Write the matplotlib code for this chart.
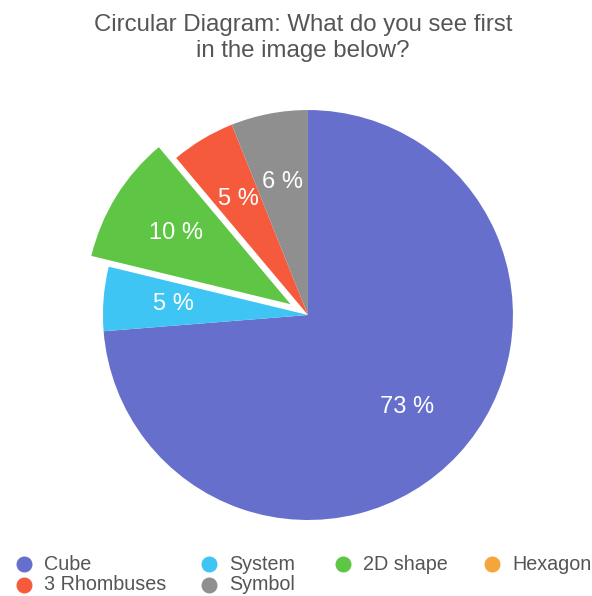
import matplotlib
matplotlib.use("Agg")
import matplotlib.pyplot as plt
from matplotlib.lines import Line2D

categories = ["Cube", "System", "2D shape", "Hexagon", "3 Rhombuses", "Symbol"]
values = [73, 5, 10, 0, 5, 6]
colors = ["#6670cc", "#3fc5f4", "#5fc545", "#f5a63a", "#f65a3c", "#8f8f8f"]
explode = [0, 0, 0.1, 0, 0, 0]
title = "Circular Diagram: What do you see first\nin the image below?"

fig = plt.figure(figsize=(5.92, 5.96), dpi=100)
ax = fig.add_axes([0.1047, 0.0587, 0.831, 0.8255])

wedges, texts = ax.pie(
    values, colors=colors, explode=explode, startangle=90, counterclock=False,
    radius=1.0, wedgeprops=dict(linewidth=0),
    labels=[f"{v} %" if v > 0 else "" for v in values], labeldistance=0.66,
    textprops=dict(color="white", fontsize=17, fontfamily="Liberation Sans"))
for t in texts:
    t.set_ha("center")
    t.set_va("center")
for w in wedges:
    w.set_clip_on(False)
ax.set_xlim(-1.2, 1.2)
ax.set_ylim(-1.2, 1.2)
ax.set_aspect("equal")
ax.axis("off")

fig.text(0.512, 1 - 38 / 596, title, ha="center", va="center", fontsize=17.3,
         color="#555555", fontfamily="Liberation Sans", linespacing=1.25)

# manual legend
legend_pos = {
    "Cube": (24, 564), "System": (209, 564), "2D shape": (343, 564), "Hexagon": (492, 564),
    "3 Rhombuses": (24, 585), "Symbol": (209, 585),
}
W, H = 592, 596
for cat, col in zip(categories, colors):
    x, y = legend_pos[cat]
    fig.add_artist(Line2D([x / W], [1 - y / H], marker="o", markersize=10.5,
                          color=col, linestyle="none", transform=fig.transFigure))
    fig.text((x + 20) / W, 1 - y / H, cat, ha="left", va="center", fontsize=14.2,
             color="#555555", fontfamily="Liberation Sans")

fig.savefig("out.png", dpi=100, facecolor="white")
